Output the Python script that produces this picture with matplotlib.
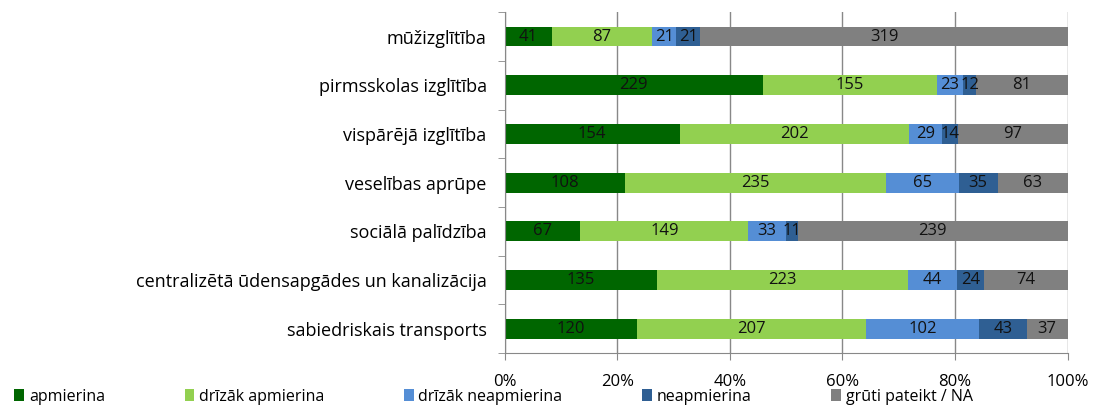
import matplotlib.pyplot as plt
import numpy as np

# ==========================================
# Data
# ==========================================

categories = [
    "mūžizglītība",
    "pirmsskolas izglītība",
    "vispārējā izglītība",
    "veselības aprūpe",
    "sociālā palīdzība",
    "centralizētā ūdensapgādes un kanalizācija",
    "sabiedriskais transports",
]

series_names = [
    "apmierina",
    "drīzāk apmierina",
    "drīzāk neapmierina",
    "neapmierina",
    "grūti pateikt / NA",
]

apmierina = [41, 229, 154, 108, 67, 135, 120]
drizak_apmierina = [87, 155, 202, 235, 149, 223, 207]
drizak_neapmierina = [21, 23, 29, 65, 33, 44, 102]
neapmierina = [21, 12, 14, 35, 11, 24, 43]
gruti_pateikt = [319, 81, 97, 63, 239, 74, 37]

colors = ["#006600", "#92D050", "#558ED5", "#2F5F93", "#808080"]

# ==========================================
# Plot
# ==========================================

plt.rcParams["font.family"] = ["Open Sans", "DejaVu Sans"]

values = np.array([
    apmierina,
    drizak_apmierina,
    drizak_neapmierina,
    neapmierina,
    gruti_pateikt,
], dtype=float)
totals = values.sum(axis=0)
shares = values / totals * 100

fig = plt.figure(figsize=(10.95, 4.05), dpi=100)
ax = fig.add_axes([0.461, 0.128, 0.514, 0.842])

y = np.arange(len(categories))[::-1]
left = np.zeros(len(categories))

for name, share, raw, color in zip(series_names, shares, values, colors):
    ax.barh(y, share, left=left, height=0.41, color=color, label=name)
    for yy, l, w, v in zip(y, left, share, raw):
        ax.text(l + w / 2, yy, f"{int(v)}", ha="center", va="center",
                fontsize=12, color="#111111")
    left += share

ax.set_xlim(0, 100)
ax.set_ylim(-0.5, len(categories) - 0.5)
ax.set_xticks(np.arange(0, 101, 20))
ax.set_xticklabels([f"{t}%" for t in range(0, 101, 20)], fontsize=12)
ax.set_yticks(y)
ax.set_yticklabels(categories, fontsize=13)

ax.set_yticks(np.arange(-0.5, len(categories), 1), minor=True)
ax.tick_params(axis="y", which="major", length=0, pad=13)
ax.tick_params(axis="y", which="minor", length=5, color="#888888")
ax.tick_params(axis="x", length=5, color="#888888", pad=10)

ax.grid(True, axis="x", color="#888888", linewidth=1)
ax.set_axisbelow(True)

for side in ["top", "right"]:
    ax.spines[side].set_visible(False)
for side in ["left", "bottom"]:
    ax.spines[side].set_color("#888888")

fig.legend(
    loc="lower left",
    bbox_to_anchor=(0.0, -0.035),
    ncol=5,
    frameon=False,
    fontsize=11.5,
    handlelength=0.6,
    handleheight=0.8,
    handletextpad=0.3,
    columnspacing=5.0,
)

plt.savefig("out.png", dpi=100)
